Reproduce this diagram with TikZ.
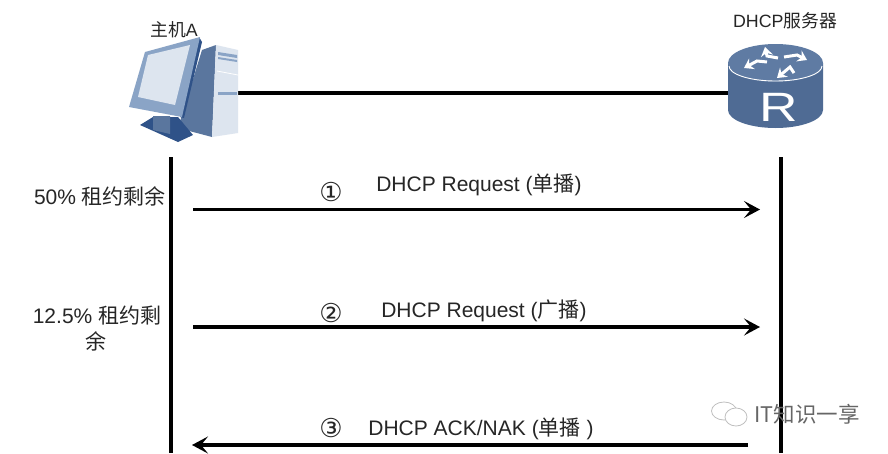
\documentclass[tikz,border=0pt]{standalone}
\usepackage{fontspec}
\setmainfont{Liberation Sans}
\newfontfamily\cjk{Noto Sans CJK SC}
\newfontfamily\sym{DejaVu Sans}
\usetikzlibrary{arrows.meta}
\tikzset{
  x=1pt,y=-1pt,
  lbl/.style={inner sep=0pt,font=\fontsize{21}{24}\selectfont,text=black!85},
  small/.style={inner sep=0pt,font=\fontsize{17.8}{21}\selectfont,text=black!85},
  num/.style={inner sep=0pt,font=\sym\fontsize{26}{30}\selectfont,text=black!85},
  wire/.style={line width=3.6pt,black},
  msg/.style={line width=3.2pt,black,-{Stealth[length=16pt,width=17pt,inset=7pt]}},
  chev/.style={white,line width=3pt,-{Stealth[length=9pt,width=12pt,inset=3pt]}},
}
\definecolor{rbody}{HTML}{4F6B94}
\definecolor{rtop}{HTML}{5F7BA3}
\definecolor{mframe}{HTML}{8AA4C6}
\definecolor{mdark}{HTML}{2F5288}
\definecolor{tside}{HTML}{5A769E}
\definecolor{tfront}{HTML}{DDE5EF}
\begin{document}
\begin{tikzpicture}
\useasboundingbox (0,0) rectangle (888,453);
\fill[white] (0,0) rectangle (888,453);
% connectors and lifelines
\coordinate (hostport) at (236,93);
\coordinate (rtport) at (730,93);
\draw[wire] (hostport) -- (rtport);
\coordinate (lt) at (171,157); \coordinate (lb) at (171,453);
\coordinate (rt) at (781,157); \coordinate (rb) at (781,453);
\draw[wire] (lt) -- (lb);
\draw[wire] (rt) -- (rb);
% host: tower
\fill[tside] (202,50) -- (216,45) -- (212,137) -- (178,128) -- cycle;
\fill[tfront] (216,45) -- (238,50) -- (238,133) -- (212,137) -- cycle;
\fill[mframe] (218,52) -- (237,55) -- (237,58) -- (218,55) -- cycle;
\fill[mframe] (218,57) -- (237,60) -- (237,62) -- (218,59) -- cycle;
\fill[mframe] (218,92) -- (237,92) -- (237,95) -- (218,95) -- cycle;
\draw[white,line width=.8pt] (217,71) -- (238,75);
% host: stand
\fill[mdark] (140,125) -- (153,117) -- (178,117) -- (193,135) -- (178,142) -- cycle;
\fill[tside] (153,116) -- (170,116) -- (170,134) -- (153,130) -- cycle;
% host: monitor
\fill[mdark] (199,37) -- (202,42) -- (184,118) -- (180,117) -- cycle;
\fill[mframe] (145,52) -- (200,37) -- (182,117) -- (129,107) -- cycle;
\fill[tfront] (148,55) -- (190,45) -- (175,105) -- (138,97) -- cycle;
% router
\fill[rbody] (728,63) -- (728,110) arc[start angle=180,end angle=0,x radius=47.5,y radius=18] -- (823,63) -- cycle;
\fill[rtop] (775.5,63) ellipse[x radius=47.5,y radius=19];
\draw[white,line width=.9pt] (729,66) arc[start angle=180,end angle=0,x radius=46.5,y radius=15];
\draw[chev] (778,58) -- (767,56) -- (765,47);
\draw[chev] (767,62) -- (757,61) -- (744,68);
\draw[chev] (784,57) -- (797,55) -- (807,60);
\draw[chev] (794,73) -- (790,67) -- (777,78);
\node[inner sep=0pt,text=white,font=\fontsize{41}{44}\selectfont,xscale=1.3] (r) at (779,107) {R};
% titles
\node[small] (a) at (174,30) {{\cjk 主机}A};
\node[small] (d) at (785,21) {DHCP{\cjk 服务器}};
% left labels
\node[lbl] (l1) at (100,196) {50\% {\cjk 租约剩余}};
\node[lbl] (l2) at (97,315) {12.5\% {\cjk 租约剩}};
\node[lbl] (l3) at (96,341) {\cjk 余};
% messages
\coordinate (m1a) at (193,209.5); \coordinate (m1b) at (760,209.5);
\coordinate (m2a) at (193,327); \coordinate (m2b) at (760,327);
\coordinate (m3a) at (748,445); \coordinate (m3b) at (192,445);
\draw[msg] (m1a) -- (m1b);
\draw[msg] (m2a) -- (m2b);
\draw[msg] (m3a) -- (m3b);
\node[num] (n1) at (331,192) {①};
\node[num] (n2) at (331,313) {②};
\node[num] (n3) at (331,428) {③};
\node[lbl] (t1) at (479,184.5) {DHCP Request ({\cjk 单播})};
\node[lbl] (t2) at (484,310.5) {DHCP Request ({\cjk 广播})};
\node[lbl] (t3) at (481,428.5) {DHCP ACK/NAK ({\cjk 单播} )};
% watermark
\node[inner sep=0pt,font=\cjk\fontsize{21.5}{24}\selectfont,text=black!60] (w) at (807,414) {IT知识一享};
\draw[black!25,line width=.8pt] (724,411) ellipse[x radius=12.5,y radius=9];
\draw[black!25,line width=.8pt,fill=white] (736,417) ellipse[x radius=11,y radius=9];
\end{tikzpicture}
\end{document}
